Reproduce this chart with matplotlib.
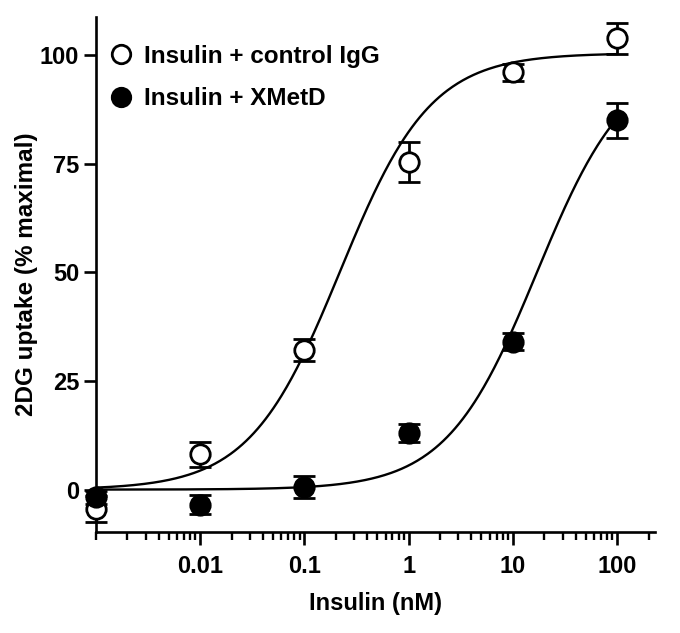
import numpy as np
import matplotlib.pyplot as plt
from matplotlib.ticker import LogLocator, NullFormatter, FixedLocator, FixedFormatter

plt.rcParams["font.family"] = ["Liberation Sans", "DejaVu Sans"]
plt.rcParams["font.weight"] = "bold"

# Insulin concentrations (nM)
insulin = [0.001, 0.01, 0.1, 1, 10, 100]

# Insulin + control IgG (open circles)
igg_mean = [-4.4, 8.1, 32.2, 75.5, 96.1, 103.9]
igg_err = [3.0, 2.8, 2.5, 4.6, 2.0, 3.5]

# Insulin + XMetD (filled circles)
xmetd_mean = [-1.8, -3.5, 0.6, 13.0, 34.1, 85.0]
xmetd_err = [1.5, 2.2, 2.5, 2.0, 2.0, 4.0]

# fitted sigmoid parameters: bottom, top, EC50 (nM), hill slope
igg_fit = (0.0, 100.5, 0.22, 1.0)
xmetd_fit = (0.0, 100.0, 17.0, 1.0)

x_ticks = [0.01, 0.1, 1, 10, 100]
x_tick_labels = ["0.01", "0.1", "1", "10", "100"]
y_ticks = [0, 25, 50, 75, 100]


def sigmoid(x, bottom, top, ec50, hill):
    return bottom + (top - bottom) / (1 + (ec50 / x) ** hill)


fig = plt.figure(figsize=(6.8, 6.33), dpi=100)
ax = fig.add_axes([0.141, 0.160, 0.822, 0.813])

xs = np.logspace(np.log10(insulin[0]), np.log10(insulin[-1]), 400)
ax.plot(xs, sigmoid(xs, *igg_fit), color="black", linewidth=1.7, zorder=2)
ax.plot(xs, sigmoid(xs, *xmetd_fit), color="black", linewidth=1.7, zorder=2)

ax.errorbar(insulin, igg_mean, yerr=igg_err, fmt="o", markersize=14,
            markerfacecolor="white", markeredgecolor="black", markeredgewidth=2.0,
            ecolor="black", elinewidth=2.0, capsize=8, capthick=2.0,
            label="Insulin + control IgG", clip_on=False, zorder=3)
ax.errorbar(insulin, xmetd_mean, yerr=xmetd_err, fmt="o", markersize=14,
            markerfacecolor="black", markeredgecolor="black", markeredgewidth=2.0,
            ecolor="black", elinewidth=2.0, capsize=8, capthick=2.0,
            label="Insulin + XMetD", clip_on=False, zorder=4)

ax.set_xscale("log")
ax.set_xlim(0.001, 230)
ax.set_ylim(-9.7, 108.8)

ax.xaxis.set_major_locator(FixedLocator(x_ticks))
ax.xaxis.set_major_formatter(FixedFormatter(x_tick_labels))
ax.xaxis.set_minor_locator(LogLocator(base=10, subs=np.arange(1, 10), numticks=20))
ax.xaxis.set_minor_formatter(NullFormatter())
ax.set_yticks(y_ticks)

for side in ["top", "right"]:
    ax.spines[side].set_visible(False)
for side in ["left", "bottom"]:
    ax.spines[side].set_linewidth(1.9)

ax.tick_params(axis="both", which="major", labelsize=17, width=1.9, length=9,
               direction="out")
ax.tick_params(axis="x", which="minor", width=1.7, length=6, direction="out")
ax.tick_params(axis="x", which="major", pad=8)
ax.tick_params(axis="y", which="major", pad=3)

ax.set_xlabel("Insulin (nM)", fontsize=17, fontweight="bold", labelpad=10)
ax.set_ylabel("2DG uptake (% maximal)", fontsize=17.5, fontweight="bold", labelpad=1)

handles, labels = ax.get_legend_handles_labels()
handles = [h[0] for h in handles]
ax.legend(handles, labels, loc="upper left", frameon=False, fontsize=17.5,
          handletextpad=0.3, borderaxespad=0.0, bbox_to_anchor=(0.0, 0.965),
          labelspacing=0.8, handlelength=1.3, markerscale=0.95)

fig.savefig("out.png", dpi=100)
